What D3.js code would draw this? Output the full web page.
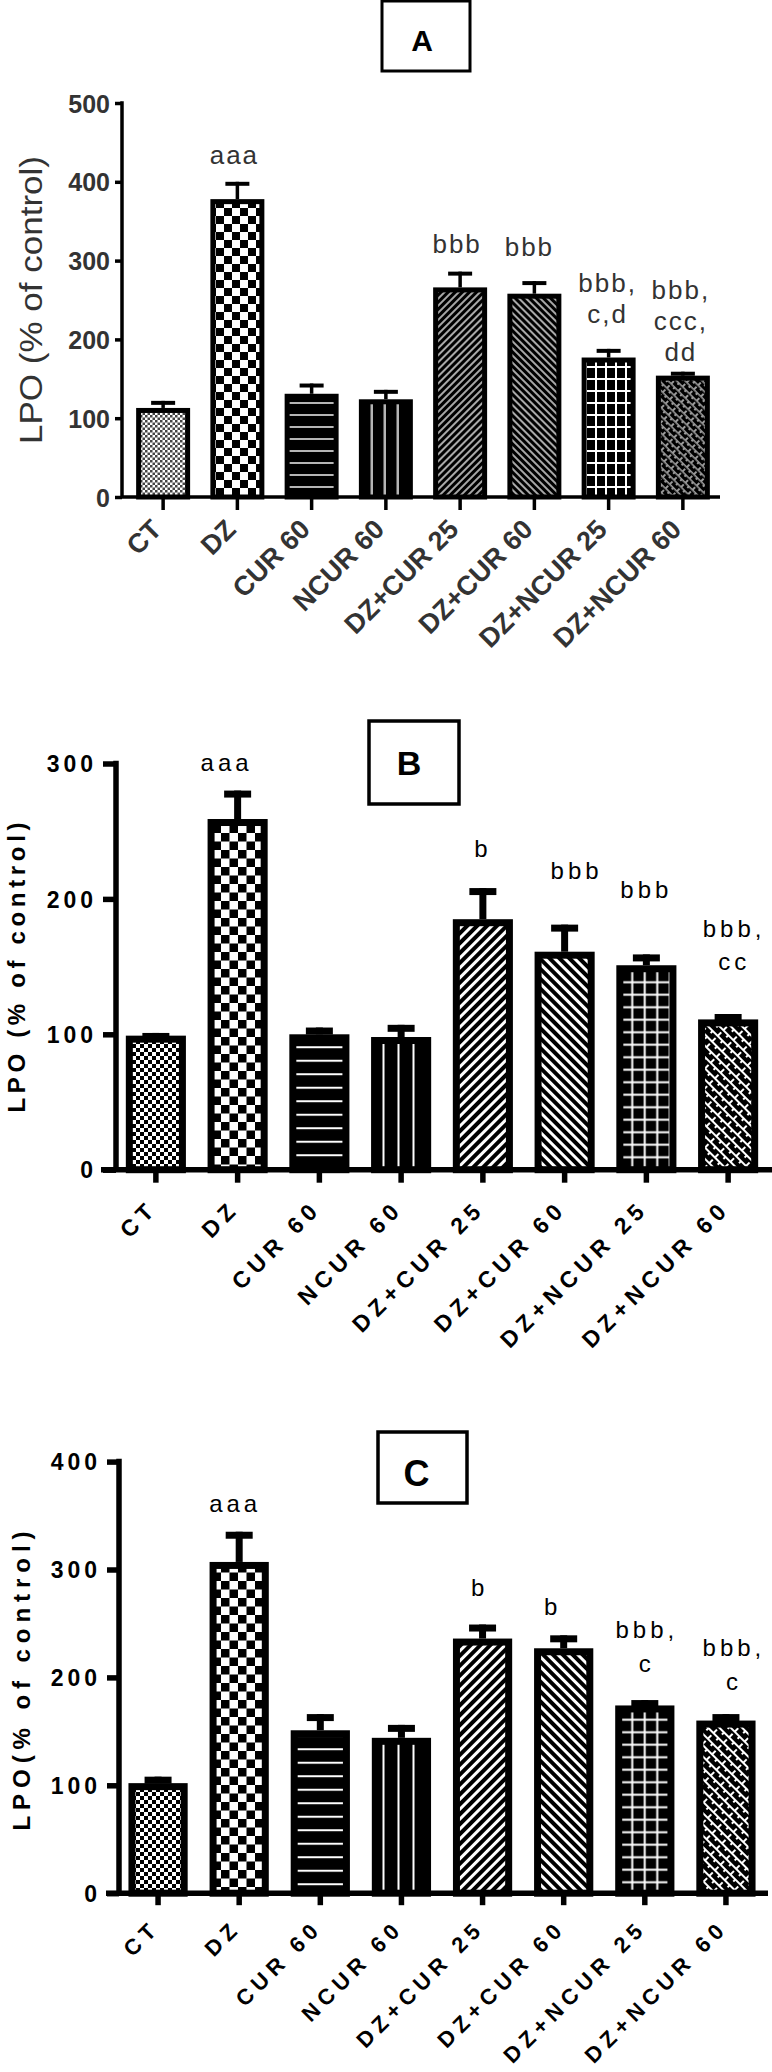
<!DOCTYPE html>
<html><head><meta charset="utf-8">
<script src="https://cdn.jsdelivr.net/npm/d3@7"></script>
<style>body{margin:0;background:#fff} svg{display:block}</style>
</head><body>
<svg id="chart" width="772" height="2072"></svg>
<script>
// ---------------- DATA ----------------
const categories = ["CT", "DZ", "CUR 60", "NCUR 60", "DZ+CUR 25", "DZ+CUR 60", "DZ+NCUR 25", "DZ+NCUR 60"];

const valuesA = [113, 378, 131, 124, 266, 258, 177, 154];
const errorsA = [9, 22, 13, 12, 20, 16, 11, 5];
const notesA  = [[], ["aaa"], [], [], ["bbb"], ["bbb"], ["bbb,", "c,d"], ["bbb,", "ccc,", "dd"]];
const ticksA  = [0, 100, 200, 300, 400, 500];

const valuesB = [99, 259, 100, 98, 185, 161, 151, 111];
const errorsB = [2, 21, 5, 9, 23, 20, 8, 4];
const notesB  = [[], ["aaa"], [], [], ["b"], ["bbb"], ["bbb"], ["bbb,", "cc"]];
const ticksB  = [0, 100, 200, 300];

const valuesC = [102, 307, 151, 144, 236, 227, 174, 160];
const errorsC = [6, 28, 15, 12, 13, 12, 5, 6];
const notesC  = [[], ["aaa"], [], [], ["b"], ["b"], ["bbb,", "c"], ["bbb,", "c"]];
const ticksC  = [0, 100, 200, 300, 400];

const yTitles = ["LPO (% of control)", "LPO (%  of control)", "LPO(%  of control)"];
const panelLetters = ["A", "B", "C"];

// ---------------- LAYOUT ----------------
const layouts = [
  { id: "A", yTop: 103, yBase: 497, yMax: 500, axisX: 122, xLeft: 122, xRight: 720, band: [126, 720], barFrac: 0.727,
    sw: 5, errSW: 3.5, capW: 24, capT: 4, axisSW: 3.5, ytick: 7, xtick: 13,
    box: [382, 1, 88, 70], boxSW: 3, letterSize: 30, letterDx: -4, letterY: 51,
    tickFont: "bold 25px 'Liberation Sans'", tickLS: 0, tickFill: "#333", tickPad: 5,
    titleFont: "normal 32px 'Liberation Sans'", titleLS: 0, titleX: 42, titleCY: 300, titleLen: 288, titleAdj: "spacingAndGlyphs", titleFill: "#333",
    xlFont: "bold 27px 'Liberation Sans'", xlLS: 0, xlDx: 0, xlDy: 34, xlFill: "#333",
    noteFont: "normal 26px 'Liberation Sans'", noteLS: 2, noteFill: "#333", noteLH: 31,
    noteGap: [0, 18, 0, 0, 19, 25, 26, 11], noteDx: [0, -3, 0, 0, -3, -5, -1, -2], gray: true },
  { id: "B", yTop: 763.5, yBase: 1169.7, yMax: 300, axisX: 116, xLeft: 101, xRight: 772, band: [115, 769], barFrac: 0.735,
    sw: 7, errSW: 7, capW: 27, capT: 7, axisSW: 5.5, ytick: 13, xtick: 13,
    box: [369, 721, 90, 83], boxSW: 3.5, letterSize: 34, letterDx: -5, letterY: 775,
    tickFont: "bold 23px 'Liberation Sans'", tickLS: 4, tickFill: "#000", tickPad: 6,
    titleFont: "bold 24px 'Liberation Sans'", titleLS: 5, titleX: 25, titleCY: 965, titleLen: 295, titleAdj: "spacing", titleFill: "#000",
    xlFont: "bold 23px 'Liberation Sans'", xlLS: 5.5, xlDx: 3, xlDy: 40, xlFill: "#000",
    noteFont: "normal 24px 'Liberation Sans'", noteLS: 4, noteFill: "#000", noteLH: 33,
    noteGap: [0, 20, 0, 0, 31, 46, 56, 44], noteDx: [0, -11, 0, 0, 0, 12, 0, 6], gray: false },
  { id: "C", yTop: 1461.6, yBase: 1893.2, yMax: 400, axisX: 119, xLeft: 106, xRight: 768, band: [117.5, 766.5], barFrac: 0.73,
    sw: 7, errSW: 7, capW: 27, capT: 7, axisSW: 5.5, ytick: 12, xtick: 12,
    box: [378, 1432, 89, 71], boxSW: 3.5, letterSize: 36, letterDx: -6, letterY: 1486,
    tickFont: "bold 23px 'Liberation Sans'", tickLS: 4, tickFill: "#000", tickPad: 6,
    titleFont: "bold 24px 'Liberation Sans'", titleLS: 6, titleX: 30, titleCY: 1678, titleLen: 305, titleAdj: "spacing", titleFill: "#000",
    xlFont: "bold 22px 'Liberation Sans'", xlLS: 5.5, xlDx: 3, xlDy: 36, xlFill: "#000",
    noteFont: "normal 24px 'Liberation Sans'", noteLS: 4, noteFill: "#000", noteLH: 34,
    noteGap: [0, 20, 0, 0, 29, 20, 28, 24], noteDx: [0, -4, 0, 0, -3, -11, 2, 8], gray: false }
];

// ---------------- DRAW ----------------
const svg = d3.select("#chart");
svg.append("rect").attr("width", 772).attr("height", 2072).attr("fill", "#fff");
const defs = svg.append("defs");

function pat(id, w, h, bg, transform) {
  const p = defs.append("pattern").attr("id", id)
    .attr("patternUnits", "userSpaceOnUse").attr("width", w).attr("height", h);
  if (transform) p.attr("patternTransform", transform);
  p.append("rect").attr("width", w).attr("height", h).attr("fill", bg);
  return p;
}

function makePatterns(pid, gray) {
  const lineC = gray ? "#b5b5b5" : "#fff";
  const diagC = gray ? "#a8a8a8" : "#fff";
  // 0 CT: fine checker
  let p = pat(pid + "0", gray ? 5 : 8, gray ? 5 : 8, "#fff");
  const c0 = gray ? 2.5 : 4;
  p.append("rect").attr("width", c0).attr("height", c0).attr("fill", gray ? "#444" : "#000");
  p.append("rect").attr("x", c0).attr("y", c0).attr("width", c0).attr("height", c0).attr("fill", gray ? "#444" : "#000");
  // 1 DZ: coarse checker
  const c1 = gray ? 8 : 8.5;
  p = pat(pid + "1", 2 * c1, 2 * c1, "#fff");
  p.append("rect").attr("width", c1).attr("height", c1).attr("fill", "#000");
  p.append("rect").attr("x", c1).attr("y", c1).attr("width", c1).attr("height", c1).attr("fill", "#000");
  // 2 CUR 60: horizontal lines
  const s2 = gray ? 12 : 13.5;
  p = pat(pid + "2", 20, s2, "#000");
  p.append("rect").attr("y", s2 / 2).attr("width", 20).attr("height", 2).attr("fill", lineC);
  // 3 NCUR 60: vertical lines
  const s3 = gray ? 13 : 15;
  p = pat(pid + "3", s3, 20, "#000");
  p.append("rect").attr("x", s3 / 2).attr("width", gray ? 2.5 : 2).attr("height", 20).attr("fill", lineC);
  // 4 DZ+CUR 25: "/" stripes
  const s4 = gray ? 5 : 7;
  p = pat(pid + "4", s4, 10, "#000", "rotate(45)");
  p.append("rect").attr("width", gray ? 2 : 3).attr("height", 10).attr("fill", diagC);
  // 5 DZ+CUR 60: "\" stripes
  p = pat(pid + "5", s4, 10, "#000", "rotate(-45)");
  p.append("rect").attr("width", gray ? 2 : 3).attr("height", 10).attr("fill", diagC);
  // 6 DZ+NCUR 25: grid
  const gx = gray ? 10 : 12.5, gy = gray ? 12 : 12.5;
  p = pat(pid + "6", gx, gy, "#000");
  p.append("rect").attr("x", gx / 2).attr("width", 2).attr("height", gy).attr("fill", "#fff");
  p.append("rect").attr("y", gy / 2).attr("width", gx).attr("height", 2).attr("fill", "#fff");
  // 7 DZ+NCUR 60: diagonal brick
  const bw = gray ? 10 : 14, bh = gray ? 6 : 8;
  p = pat(pid + "7", bw, bh, "#000", "rotate(45)");
  const bc = gray ? "#9a9a9a" : "#fff";
  p.append("rect").attr("width", bw).attr("height", gray ? 1.6 : 2).attr("fill", bc);
  p.append("rect").attr("x", 0).attr("width", 2).attr("height", bh / 2).attr("fill", bc);
  p.append("rect").attr("x", bw / 2).attr("y", bh / 2).attr("width", 2).attr("height", bh / 2).attr("fill", bc);
}

function applyFont(sel, font, ls, fill) {
  const m = font.match(/^(\w+) (\d+(?:\.\d+)?)px (.+)$/);
  sel.attr("font-weight", m[1]).attr("font-size", m[2] + "px").attr("font-family", m[3] + ", Arial, sans-serif")
     .attr("letter-spacing", ls).attr("fill", fill);
}

function drawPanel(k, values, errors, notes, ticks) {
  const cfg = layouts[k];
  const pid = "p" + cfg.id;
  makePatterns(pid, cfg.gray);
  const g = svg.append("g");

  const y = d3.scaleLinear().domain([0, cfg.yMax]).range([cfg.yBase, cfg.yTop]);
  const x = d3.scaleBand().domain(categories).range(cfg.band)
    .paddingInner(1 - cfg.barFrac).paddingOuter((1 - cfg.barFrac) / 2);

  // title box
  const [bx0, by0, bw0, bh0] = cfg.box;
  g.append("rect").attr("x", bx0).attr("y", by0).attr("width", bw0).attr("height", bh0)
    .attr("fill", "#fff").attr("stroke", "#000").attr("stroke-width", cfg.boxSW);
  g.append("text").attr("x", bx0 + bw0 / 2 + cfg.letterDx).attr("y", cfg.letterY)
    .attr("text-anchor", "middle").attr("font-family", "'Liberation Sans', Arial, sans-serif")
    .attr("font-weight", "bold").attr("font-size", cfg.letterSize + "px").attr("fill", "#000")
    .text(panelLetters[k]);

  // bars + error bars
  const bars = g.append("g");
  categories.forEach((c, i) => {
    const v = values[i], e = errors[i];
    const x0 = x(c), w = x.bandwidth(), cx = x0 + w / 2;
    bars.append("line").attr("x1", cx).attr("x2", cx).attr("y1", y(v)).attr("y2", y(v + e))
      .attr("stroke", "#000").attr("stroke-width", cfg.errSW);
    bars.append("line").attr("x1", cx - cfg.capW / 2).attr("x2", cx + cfg.capW / 2)
      .attr("y1", y(v + e) + cfg.capT / 2).attr("y2", y(v + e) + cfg.capT / 2)
      .attr("stroke", "#000").attr("stroke-width", cfg.capT);
    bars.append("rect").attr("x", x0 + cfg.sw / 2).attr("y", y(v) + cfg.sw / 2)
      .attr("width", w - cfg.sw).attr("height", y(0) - y(v) - cfg.sw / 2)
      .attr("fill", `url(#${pid}${i})`).attr("stroke", "#000").attr("stroke-width", cfg.sw);

    // significance notes
    const lines = notes[i];
    const topPx = y(v + e);
    lines.forEach((t, j) => {
      const base = topPx - cfg.noteGap[i] - (lines.length - 1 - j) * cfg.noteLH;
      const tx = g.append("text").attr("x", cx + cfg.noteDx[i]).attr("y", base)
        .attr("text-anchor", "middle").text(t);
      applyFont(tx, cfg.noteFont, cfg.noteLS, cfg.noteFill);
    });
  });

  // y axis
  const ya = g.append("g").attr("transform", `translate(${cfg.axisX},0)`)
    .call(d3.axisLeft(y).tickValues(ticks).tickFormat(d3.format("d")).tickSize(cfg.ytick).tickSizeOuter(0).tickPadding(cfg.tickPad));
  ya.select(".domain").remove();
  ya.selectAll(".tick line").attr("stroke", "#000").attr("stroke-width", cfg.axisSW);
  applyFont(ya.selectAll(".tick text").attr("dy", "0.36em"), cfg.tickFont, cfg.tickLS, cfg.tickFill);
  g.append("line").attr("x1", cfg.axisX).attr("x2", cfg.axisX)
    .attr("y1", y(cfg.yMax) - cfg.axisSW / 2).attr("y2", y(0))
    .attr("stroke", "#000").attr("stroke-width", cfg.axisSW);

  // x axis
  const xa = g.append("g").attr("transform", `translate(0,${y(0)})`)
    .call(d3.axisBottom(x).tickSize(cfg.xtick).tickSizeOuter(0));
  xa.select(".domain").remove();
  xa.selectAll(".tick line").attr("stroke", "#000").attr("stroke-width", cfg.axisSW);
  const xl = xa.selectAll(".tick text").attr("y", 0).attr("dy", 0).attr("x", 0)
    .attr("text-anchor", "end")
    .attr("transform", `translate(${cfg.xlDx},${cfg.xlDy}) rotate(-45)`);
  applyFont(xl, cfg.xlFont, cfg.xlLS, cfg.xlFill);
  g.append("line").attr("x1", cfg.xLeft).attr("x2", cfg.xRight).attr("y1", y(0)).attr("y2", y(0))
    .attr("stroke", "#000").attr("stroke-width", cfg.axisSW);

  // y title
  const tt = g.append("text").attr("transform", `translate(${cfg.titleX},${cfg.titleCY}) rotate(-90)`)
    .attr("text-anchor", "middle").text(yTitles[k]);
  applyFont(tt, cfg.titleFont, cfg.titleLS, cfg.titleFill);
  if (cfg.titleLen) tt.attr("textLength", cfg.titleLen).attr("lengthAdjust", cfg.titleAdj);
}

drawPanel(0, valuesA, errorsA, notesA, ticksA);
drawPanel(1, valuesB, errorsB, notesB, ticksB);
drawPanel(2, valuesC, errorsC, notesC, ticksC);
</script>
</body></html>
